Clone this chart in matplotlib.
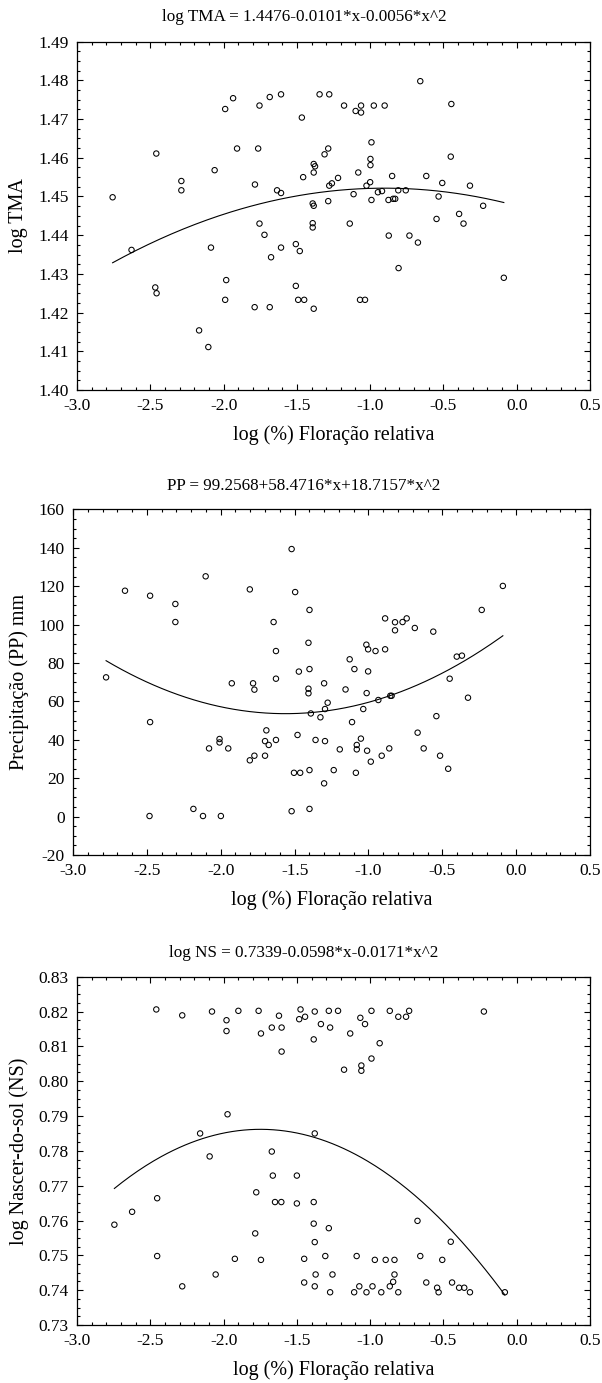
import numpy as np
import matplotlib
matplotlib.use("Agg")
from matplotlib import pyplot as plt
from matplotlib.ticker import MultipleLocator, FormatStrFormatter

plt.rcParams['font.family'] = ['Liberation Serif', 'DejaVu Serif']
plt.rcParams['axes.unicode_minus'] = False

# log (%) floração relativa x log TMA
x_tma = [-2.757, -2.628, -2.459, -2.466, -2.457, -2.288, -2.288, -2.061, -2.086, -2.167,
         -2.104, -1.989, -1.935, -1.908, -1.982, -1.989, -1.786, -1.764, -1.755, -1.685,
         -1.608, -1.755, -1.721, -1.635, -1.608, -1.608, -1.676, -1.788, -1.685, -1.466,
         -1.457, -1.507, -1.480, -1.507, -1.491, -1.450, -1.385, -1.385, -1.376, -1.385,
         -1.392, -1.385, -1.392, -1.392, -1.345, -1.279, -1.286, -1.311, -1.286, -1.279,
         -1.261, -1.219, -1.178, -1.099, -1.062, -1.062, -0.975, -0.901, -1.081, -1.113,
         -1.139, -1.069, -1.035, -1.025, -1.000, -0.991, -0.998, -0.998, -0.991, -0.947,
         -0.919, -0.850, -0.875, -0.843, -0.829, -0.808, -0.757, -0.873, -0.806, -0.732,
         -0.674, -0.658, -0.617, -0.508, -0.533, -0.547, -0.450, -0.446, -0.393, -0.363,
         -0.319, -0.229, -0.088]
y_tma = [1.4498, 1.4362, 1.4611, 1.4265, 1.4250, 1.4540, 1.4516, 1.4568, 1.4368, 1.4154,
         1.4111, 1.4726, 1.4754, 1.4624, 1.4284, 1.4233, 1.4531, 1.4624, 1.4735, 1.4757,
         1.4764, 1.4430, 1.4401, 1.4516, 1.4509, 1.4368, 1.4343, 1.4214, 1.4214, 1.4704,
         1.4550, 1.4377, 1.4359, 1.4269, 1.4233, 1.4233, 1.4210, 1.4584, 1.4578, 1.4562,
         1.4482, 1.4476, 1.4431, 1.4420, 1.4764, 1.4764, 1.4624, 1.4609, 1.4488, 1.4528,
         1.4534, 1.4548, 1.4735, 1.4721, 1.4735, 1.4717, 1.4735, 1.4735, 1.4562, 1.4506,
         1.4430, 1.4233, 1.4233, 1.4528, 1.4537, 1.4640, 1.4597, 1.4581, 1.4491, 1.4511,
         1.4514, 1.4553, 1.4491, 1.4494, 1.4494, 1.4516, 1.4516, 1.4399, 1.4315, 1.4399,
         1.4381, 1.4798, 1.4553, 1.4535, 1.4500, 1.4442, 1.4603, 1.4739, 1.4455, 1.4430,
         1.4528, 1.4476, 1.4290]

# log (%) floração relativa x precipitação
x_pp = [-2.776, -2.648, -2.478, -2.478, -2.482, -2.307, -2.307, -2.102, -2.185, -2.120,
        -1.999, -2.079, -2.008, -2.008, -1.949, -1.925, -1.803, -1.781, -1.772, -1.803,
        -1.772, -1.691, -1.700, -1.675, -1.700, -1.626, -1.642, -1.626, -1.626, -1.520,
        -1.496, -1.471, -1.480, -1.504, -1.462, -1.520, -1.399, -1.406, -1.399, -1.406,
        -1.406, -1.390, -1.399, -1.399, -1.358, -1.325, -1.300, -1.300, -1.294, -1.294,
        -1.276, -1.235, -1.194, -1.155, -1.127, -1.095, -1.111, -1.085, -1.079, -1.079,
        -1.051, -1.035, -1.014, -1.002, -0.952, -1.002, -1.012, -1.009, -0.984, -0.933,
        -0.887, -0.887, -0.852, -0.843, -0.910, -0.859, -0.820, -0.820, -0.769, -0.741,
        -0.686, -0.667, -0.626, -0.561, -0.540, -0.515, -0.460, -0.450, -0.402, -0.367,
        -0.326, -0.233, -0.090]
y_pp = [72.5, 117.6, 115.0, 49.2, 0.3, 110.7, 101.3, 125.1, 4.0, 0.3,
        0.3, 35.5, 40.4, 38.6, 35.5, 69.4, 118.3, 69.4, 66.1, 29.3,
        31.7, 44.9, 39.3, 37.3, 31.7, 39.9, 101.3, 86.2, 71.8, 139.3,
        116.9, 75.5, 42.5, 22.8, 22.8, 2.8, 107.6, 90.5, 76.8, 66.6,
        64.2, 53.7, 24.2, 4.0, 39.9, 51.7, 69.4, 17.3, 39.3, 56.0,
        59.3, 24.2, 35.0, 66.2, 81.9, 76.8, 49.2, 22.8, 37.3, 35.0,
        40.6, 56.0, 89.5, 87.1, 86.2, 75.6, 64.3, 34.3, 28.6, 60.7,
        103.2, 87.1, 62.9, 62.9, 31.7, 35.5, 101.2, 97.0, 101.3, 103.2,
        98.2, 43.7, 35.5, 96.3, 52.3, 31.7, 24.9, 71.8, 83.3, 83.8,
        61.9, 107.6, 120.1]

# log (%) floração relativa x log nascer-do-sol
x_ns = [-2.745, -2.624, -2.453, -2.453, -2.459, -2.282, -2.282, -2.160, -2.095, -2.079,
        -2.054, -1.980, -1.980, -1.973, -1.923, -1.899, -1.777, -1.784, -1.761, -1.745,
        -1.745, -1.671, -1.671, -1.664, -1.649, -1.606, -1.622, -1.604, -1.604, -1.500,
        -1.500, -1.475, -1.484, -1.444, -1.450, -1.450, -1.378, -1.385, -1.378, -1.385,
        -1.385, -1.378, -1.372, -1.378, -1.336, -1.282, -1.273, -1.282, -1.306, -1.257,
        -1.273, -1.219, -1.178, -1.136, -1.092, -1.109, -1.074, -1.067, -1.035, -1.060,
        -1.060, -1.025, -0.991, -0.991, -0.984, -0.968, -0.935, -0.924, -0.866, -0.894,
        -0.834, -0.834, -0.843, -0.866, -0.808, -0.808, -0.755, -0.734, -0.677, -0.658,
        -0.617, -0.543, -0.533, -0.508, -0.450, -0.441, -0.393, -0.358, -0.319, -0.224,
        -0.081]
y_ns = [0.7588, 0.7625, 0.7664, 0.7498, 0.8206, 0.8189, 0.7411, 0.7850, 0.7784, 0.8200,
        0.7445, 0.8175, 0.8144, 0.7905, 0.7490, 0.8202, 0.7681, 0.7563, 0.8202, 0.8137,
        0.7487, 0.8154, 0.7798, 0.7729, 0.7653, 0.7653, 0.8188, 0.8154, 0.8085, 0.7729,
        0.7649, 0.8206, 0.8178, 0.8185, 0.7490, 0.7422, 0.8200, 0.8120, 0.7850, 0.7653,
        0.7591, 0.7538, 0.7445, 0.7411, 0.8164, 0.8202, 0.8154, 0.7578, 0.7498, 0.7445,
        0.7394, 0.8202, 0.8033, 0.8137, 0.7498, 0.7394, 0.7411, 0.8182, 0.8164, 0.8045,
        0.8030, 0.7394, 0.8202, 0.8065, 0.7411, 0.7487, 0.8109, 0.7394, 0.8202, 0.7487,
        0.7487, 0.7445, 0.7424, 0.7411, 0.8185, 0.7394, 0.8185, 0.8202, 0.7599, 0.7498,
        0.7422, 0.7407, 0.7394, 0.7487, 0.7539, 0.7422, 0.7407, 0.7407, 0.7394, 0.8200,
        0.7394]

# coeficientes das regressões (a + b*x + c*x^2)
coef_tma = [1.4476, -0.0101, -0.0056]
coef_pp = [99.2568, 58.4716, 18.7157]
coef_ns = [0.7339, -0.0598, -0.0171]

titles = ["log TMA = 1.4476-0.0101*x-0.0056*x^2",
          "PP = 99.2568+58.4716*x+18.7157*x^2",
          "log NS = 0.7339-0.0598*x-0.0171*x^2"]
ylabels = ["log TMA", "Precipitação (PP) mm", "log Nascer-do-sol (NS)"]
xlabel = "log (%) Floração relativa"

W, H = 602, 1383
fig = plt.figure(figsize=(W / 100, H / 100), dpi=100)

# caixas dos eixos em pixels: esquerda, topo, direita, base
boxes = [(77, 41.7, 590, 390), (73, 509.3, 590, 855), (77, 976.7, 590, 1325)]
title_y = [17, 486, 953]
ylims = [(1.40, 1.49), (-20, 160), (0.73, 0.83)]
ysteps = [(0.01, 0.0025), (20, 5), (0.01, 0.0025)]
yfmts = ['%.2f', '%d', '%.2f']
data = [(x_tma, y_tma, coef_tma), (x_pp, y_pp, coef_pp), (x_ns, y_ns, coef_ns)]

for i in range(3):
    l, t, r, b = boxes[i]
    ax = fig.add_axes([l / W, 1 - b / H, (r - l) / W, (b - t) / H])
    x, y, c = data[i]
    ax.scatter(x, y, s=15, facecolors='none', edgecolors='black', linewidths=0.75, zorder=3)
    xs = np.linspace(min(x), max(x), 200)
    ax.plot(xs, c[0] + c[1] * xs + c[2] * xs ** 2, color='black', lw=0.8)

    ax.set_xlim(-3.0, 0.5)
    ax.set_ylim(*ylims[i])
    ax.xaxis.set_major_locator(MultipleLocator(0.5))
    ax.xaxis.set_minor_locator(MultipleLocator(0.1))
    ax.yaxis.set_major_locator(MultipleLocator(ysteps[i][0]))
    ax.yaxis.set_minor_locator(MultipleLocator(ysteps[i][1]))
    ax.xaxis.set_major_formatter(FormatStrFormatter('%.1f'))
    ax.yaxis.set_major_formatter(FormatStrFormatter(yfmts[i]))
    ax.tick_params(which='both', direction='in', top=True, right=True, width=0.8,
                   labelsize=12.5, pad=6)
    ax.tick_params(which='major', length=4)
    ax.tick_params(which='minor', length=2.5)
    for sp in ax.spines.values():
        sp.set_linewidth(0.9)

    ax.set_xlabel(xlabel, fontsize=14.5, va='center')
    ax.xaxis.set_label_coords(0.5, -45 / (b - t))
    ax.set_ylabel(ylabels[i], fontsize=14.5, va='center')
    ax.yaxis.set_label_coords((19 - l) / (r - l), 0.5)

    fig.text(0.505, 1 - title_y[i] / H, titles[i], fontsize=12.3, ha='center', va='center')

fig.savefig("out.png", dpi=100)
